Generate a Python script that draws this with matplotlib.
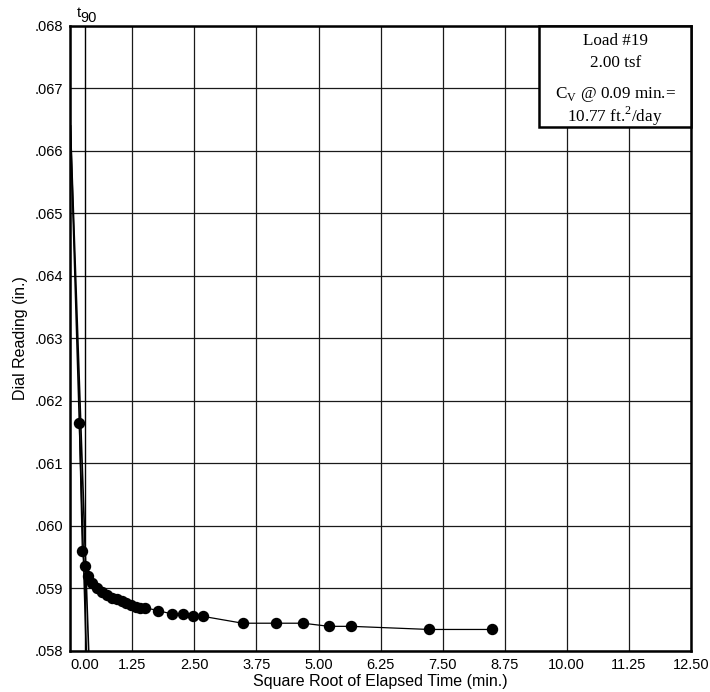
import matplotlib
matplotlib.use("Agg")
import matplotlib.pyplot as plt
import numpy as np

# Square root of elapsed time (min^0.5) and dial readings (in.)
sqrt_time = [0.18, 0.24, 0.29, 0.36, 0.43, 0.53, 0.63, 0.73, 0.83, 0.93,
             1.03, 1.13, 1.23, 1.32, 1.41, 1.50, 1.77, 2.04, 2.26, 2.48,
             2.67, 3.47, 4.14, 4.69, 5.21, 5.66, 7.23, 8.49]
dial = [0.06165, 0.05960, 0.05935, 0.05919, 0.05908, 0.05900, 0.05894,
        0.05889, 0.05885, 0.05882, 0.05879, 0.05877, 0.05873, 0.05870,
        0.05869, 0.05869, 0.05864, 0.05859, 0.05859, 0.05855, 0.05855,
        0.05844, 0.05844, 0.05844, 0.05839, 0.05839, 0.05834, 0.05834]

# Taylor construction: corrected zero, initial line and the 1.15x line
corrected_zero = 0.0664
initial_intercept = 0.32      # sqrt(t) where the initial line reaches the bottom axis
taylor_factor = 1.15
sqrt_t90 = 0.30               # sqrt(0.09 min)

x_ticks = [0.00, 1.25, 2.50, 3.75, 5.00, 6.25, 7.50, 8.75, 10.00, 11.25, 12.50]
y_ticks = [0.058, 0.059, 0.060, 0.061, 0.062, 0.063, 0.064, 0.065, 0.066, 0.067, 0.068]

info_lines = ["Load #19", "2.00 tsf"]
cv_label = "C$_{\\mathregular{V}}$ @ 0.09 min.="
cv_value = "10.77 ft.$^{\\mathregular{2}}$/day"

sans = ["Liberation Sans", "DejaVu Sans"]
serif = ["Liberation Serif", "DejaVu Serif"]

W, H = 710, 692
fig = plt.figure(figsize=(W / 100, H / 100), dpi=100)
ax = fig.add_axes([70.4 / W, 41.3 / H, 620.3 / W, 624.7 / H])

ax.set_xlim(0, 12.5)
ax.set_ylim(0.058, 0.068)
ax.set_xticks(x_ticks)
ax.set_yticks(y_ticks)
ax.set_xticklabels([f"{v:.2f}" for v in x_ticks], family=sans, fontsize=10.5)
ax.set_yticklabels([f"{v:.3f}".lstrip("0") for v in y_ticks], family=sans, fontsize=10.5)
ax.get_xticklabels()[0].set_ha("left")
ax.tick_params(length=0, pad=5)
ax.grid(True, color="#1a1a1a", lw=0.9)
ax.set_axisbelow(True)
for sp in ax.spines.values():
    sp.set_linewidth(1.8)
    sp.set_color("black")

ax.set_xlabel("Square Root of Elapsed Time (min.)", family=sans, fontsize=11.5, labelpad=2)
ax.set_ylabel("Dial Reading (in.)", family=sans, fontsize=11.5, labelpad=5)

# Construction lines
slope = (corrected_zero - 0.058) / initial_intercept
xa = np.array([0.0, initial_intercept])
ax.plot(xa, corrected_zero - slope * xa, color="black", lw=1.2, zorder=3)
xb = np.array([0.0, initial_intercept * taylor_factor])
ax.plot(xb, corrected_zero - slope / taylor_factor * xb, color="black", lw=1.2, zorder=3)
ax.axvline(sqrt_t90, color="black", lw=1.0, zorder=2)

# t90 marker label above the plot
fig.text(80.5 / W, 1 - 17 / H, "t", family=sans, fontsize=10.5,
         ha="right", va="baseline")
fig.text(80.5 / W, 1 - 22 / H, "90", family=sans, fontsize=10.5,
         ha="left", va="baseline")

# Readings
ax.plot(sqrt_time, dial, color="black", lw=0.9, marker="o", markersize=7.2,
        markerfacecolor="black", markeredgecolor="black", zorder=4)

# Load info box
box_x0 = 539.3 / W
box_y0 = (H - 126.7) / H
box_w = (691.0 - 539.3) / W
box_h = (126.7 - 26.0) / H
box = plt.Rectangle((box_x0, box_y0), box_w, box_h, transform=fig.transFigure,
                    facecolor="white", edgecolor="black", lw=1.8, zorder=5)
fig.add_artist(box)
cx = box_x0 + box_w / 2
fs = 12.3
fig.text(cx, 1 - 41 / H, info_lines[0], family=serif, fontsize=fs,
         ha="center", va="center", zorder=6)
fig.text(cx, 1 - 63 / H, info_lines[1], family=serif, fontsize=fs,
         ha="center", va="center", zorder=6)
fig.text(cx, 1 - 94 / H, cv_label, family=serif, fontsize=fs,
         ha="center", va="center", zorder=6)
fig.text(cx, 1 - 116 / H, cv_value, family=serif, fontsize=fs,
         ha="center", va="center", zorder=6)

fig.savefig("out.png", dpi=100)
